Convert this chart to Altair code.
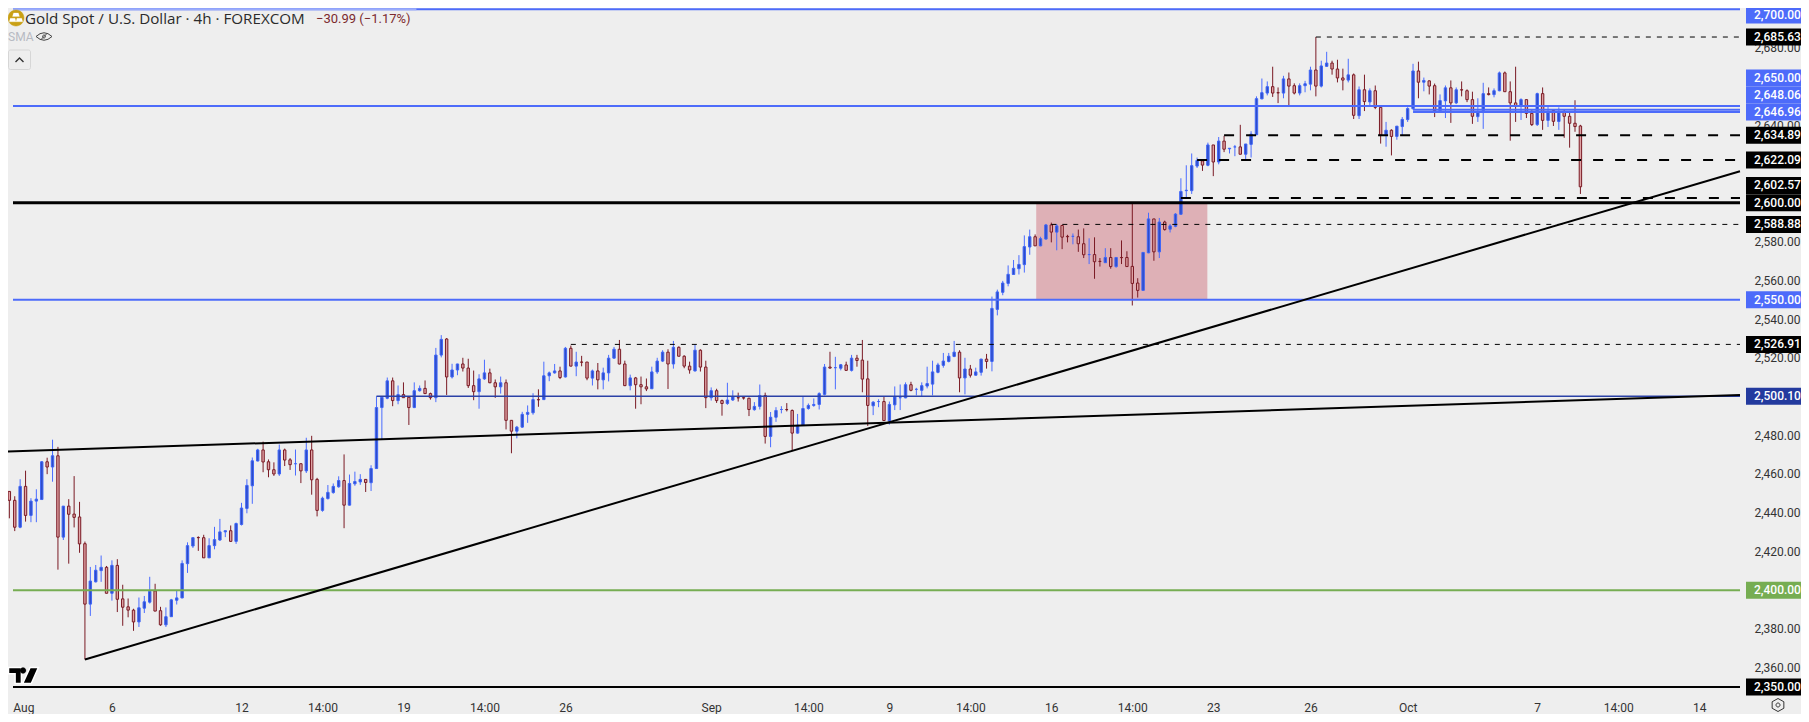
import altair as alt
import pandas as pd

# ---- candles, four-hour bars -----------------------------------------------
body_top = [
 2451.0,2451.0,2446.4,2453.6,2453.6,2446.0,2447.0,2466.3,2466.3,2469.4,2469.4,
 2443.4,2443.4,2439.3,2437.8,2424.0,2404.7,2410.3,2411.8,2411.8,2412.8,
 2412.8,2395.5,2391.4,2389.7,2390.9,2394.0,2399.4,2399.6,2389.4,2386.3,
 2395.0,2396.0,2413.8,2423.0,2427.1,2427.2,2427.1,2423.0,2426.1,2430.1,
 2430.7,2430.7,2434.4,2442.4,2454.1,2466.8,2472.4,2472.4,2466.3,2462.2,2472.4,
 2472.4,2467.3,2465.3,2465.3,2472.4,2472.4,2457.2,2447.5,2450.5,2453.6,
 2456.6,2456.6,2455.1,2456.1,2457.2,2457.2,2462.8,2494.3,2499.6,2508.1,
 2508.1,2501.0,2501.0,2499.6,2503.0,2504.2,2504.2,2501.5,2521.4,2529.5,
 2529.7,2513.7,2516.8,2516.8,2514.7,2505.6,2509.1,2512.2,2512.2,2507.1,
 2507.1,2507.1,2487.7,2484.2,2490.8,2491.8,2498.4,2498.4,2510.7,2512.2,
 2513.2,2513.2,
 2524.9,2524.9,2517.8,2517.8,2517.8,2513.2,2513.2,2512.2,2519.8,2524.4,
 2524.4,2516.8,2509.6,2509.6,2506.1,2505.0,2512.7,2518.3,2522.9,2522.9,
 2525.4,2525.4,2520.8,2515.7,2523.9,2523.9,2515.2,2503.0,2503.0,2497.9,
 2498.2,2499.9,2499.4,2499.4,2499.1,2494.9,2500.5,2500.5,2489.3,2492.8,
 2493.3,2493.3,2492.8,2485.2,2493.8,2495.4,2495.9,2501.5,2515.2,2515.2,2514.9,
 2516.4,2516.3,2519.8,2519.8,2518.8,2509.1,2497.1,2497.4,2497.4,2495.9,
 2499.8,2499.4,2506.1,2506.1,2503.7,2505.6,2506.7,2512.7,2516.3,2518.3,
 2520.8,2522.9,2522.9,2514.2,2514.2,2512.7,2519.3,2519.3,2545.5,2554.0,
 2558.6,2563.1,2566.2,2568.2,2577.4,2582.5,2582.5,2581.5,2588.6,2588.6,
 2588.1,2588.3,2582.7,2582.7,2582.5,2578.9,2573.3,2573.3,2569.8,2571.8,
 2571.8,2571.8,2571.8,2571.8,2567.2,2558.6,2574.4,2591.7,2591.7,2590.1,
 2590.1,2588.1,2594.2,2605.9,2606.5,
 2619.2,2621.9,2621.7,2629.9,2629.9,2631.9,2631.9,2628.2,2628.9,2628.9,
 2630.4,2635.5,2653.8,2656.9,2660.0,2660.0,2656.9,2664.0,2664.0,2660.5,
 2660.5,2661.5,2668.6,2668.6,2670.7,2672.2,2672.2,2669.1,2664.5,2666.1,
 2666.1,2658.4,2658.4,2657.9,2657.9,2649.3,2637.5,2637.5,
 2639.6,2643.1,2648.7,2668.1,2668.1,2663.2,2663.0,2660.5,2652.8,2659.4,
 2659.4,2658.4,2658.4,2657.9,2653.3,2646.9,2656.4,2656.4,2657.9,2667.1,
 2667.1,2657.4,2651.6,2653.3,2653.3,2646.2,2656.4,2656.4,2647.2,2647.7,
 2647.2,2647.2,2644.7,2641.1,2639.7]
body_bottom = [
 2446.8,2446.4,2432.5,2432.5,2438.6,2438.6,2446.0,2446.8,2463.6,2463.6,2427.4,
 2427.4,2439.2,2437.6,2423.9,2392.8,2392.8,2404.3,2410.1,2398.4,2398.4,
 2395.3,2391.2,2389.7,2383.6,2383.6,2390.7,2393.8,2389.2,2382.1,2382.1,
 2386.3,2394.8,2396.0,2413.7,2422.8,2427.1,2416.7,2416.7,2423.0,2425.9,
 2430.1,2425.2,2425.2,2433.9,2442.2,2453.9,2466.7,2466.2,2462.2,2460.0,2460.0,
 2467.2,2464.8,2465.3,2461.6,2461.6,2457.0,2441.2,2441.2,2447.3,2450.4,
 2453.4,2443.9,2443.9,2454.9,2455.9,2455.6,2455.5,2462.8,2494.3,2499.1,
 2497.9,2497.9,2499.4,2494.3,2494.3,2503.0,2501.5,2499.4,2499.4,2521.4,
 2510.1,2510.1,2513.7,2514.7,2505.6,2502.5,2502.5,2509.1,2507.1,2505.0,
 2505.0,2487.7,2482.1,2482.1,2484.2,2490.8,2491.6,2498.3,2498.4,2510.7,
 2512.2,2509.8,
 2510.1,2515.7,2515.7,2517.7,2509.5,2509.5,2508.6,2508.6,2512.2,2519.8,
 2516.8,2505.6,2505.6,2506.1,2505.0,2503.9,2504.0,2512.7,2518.3,2516.8,
 2516.8,2520.8,2515.7,2513.7,2513.2,2515.2,2499.4,2499.4,2497.9,2496.4,
 2496.4,2498.2,2499.3,2499.2,2493.3,2493.2,2494.9,2479.4,2479.4,2489.3,
 2493.3,2493.2,2481.1,2481.1,2485.2,2493.8,2495.4,2495.9,2501.1,2514.7,2514.9,
 2514.6,2513.5,2513.5,2518.6,2509.0,2495.4,2495.2,2497.4,2487.6,2487.4,
 2495.7,2499.4,2499.3,2503.2,2503.7,2503.2,2505.4,2506.4,2512.5,2516.1,
 2518.1,2520.7,2509.6,2509.6,2511.0,2511.0,2512.5,2518.1,2518.1,2545.0,
 2553.8,2558.4,2563.0,2566.0,2568.1,2577.2,2577.8,2577.8,2581.3,2584.9,
 2584.9,2582.3,2582.5,2582.7,2578.9,2573.2,2573.3,2569.6,2569.7,2569.1,
 2567.1,2567.1,2571.7,2567.1,2558.4,2554.8,2554.8,2574.2,2574.7,2574.7,
 2586.2,2586.4,2587.9,2594.1,2606.3,
 2606.3,2619.0,2619.5,2619.4,2621.1,2621.1,2627.7,2627.9,2628.9,2625.1,
 2625.1,2630.2,2635.2,2653.7,2656.7,2656.7,2656.8,2656.7,2660.3,2656.7,
 2656.7,2660.5,2661.3,2660.3,2660.3,2670.5,2669.1,2664.5,2663.4,2663.4,
 2645.2,2645.0,2652.3,2652.1,2649.3,2635.0,2635.2,2634.3,
 2634.3,2639.4,2643.0,2648.6,2662.3,2662.3,2660.3,2647.6,2647.6,2652.7,
 2651.6,2651.6,2658.3,2653.3,2644.7,2644.5,2647.6,2655.9,2655.9,2657.9,
 2657.4,2651.6,2649.8,2649.9,2646.2,2640.4,2640.4,2642.6,2642.6,2642.1,
 2642.0,2644.7,2641.1,2639.4,2608.3]
high_prices = [
 2451.0,2451.0,2448.5,2457.3,2461.7,2447.5,2452.1,2466.7,2468.4,2477.7,2474.0,
 2443.4,2447.0,2458.9,2445.6,2425.1,2412.0,2413.0,2417.9,2412.5,2415.4,
 2416.0,2402.8,2395.7,2390.4,2396.2,2397.0,2406.9,2403.3,2391.4,2391.1,
 2395.5,2400.1,2415.4,2424.7,2427.2,2427.8,2428.6,2426.8,2432.7,2436.8,
 2430.8,2433.4,2434.9,2445.1,2457.3,2468.5,2473.0,2476.7,2467.5,2466.0,2475.2,
 2473.1,2468.2,2472.6,2465.3,2478.7,2479.7,2458.0,2448.3,2454.3,2455.1,
 2458.8,2470.1,2459.7,2461.2,2459.9,2457.2,2464.5,2500.1,2500.1,2509.8,
 2509.8,2505.7,2507.3,2500.1,2507.3,2505.7,2508.3,2502.0,2525.1,2531.7,
 2530.2,2516.9,2516.9,2520.0,2519.5,2513.4,2511.5,2519.0,2514.4,2508.8,
 2510.3,2508.8,2487.7,2484.8,2492.1,2495.4,2501.7,2503.7,2518.0,2512.9,
 2516.8,2515.4,
 2525.6,2526.3,2523.1,2521.0,2517.8,2513.9,2517.3,2514.9,2521.5,2525.6,
 2529.2,2518.5,2511.3,2510.1,2510.3,2509.3,2515.4,2520.0,2523.9,2524.4,
 2528.7,2525.9,2521.3,2518.0,2526.8,2524.4,2518.5,2504.7,2504.0,2498.4,
 2507.1,2503.2,2502.0,2499.9,2499.4,2497.1,2506.2,2502.0,2492.0,2494.5,
 2495.0,2496.6,2493.3,2491.0,2499.9,2496.4,2499.0,2502.2,2516.8,2523.1,2520.5,
 2516.8,2518.0,2521.5,2521.5,2529.2,2518.5,2497.6,2498.6,2499.9,2497.4,
 2505.2,2506.2,2507.3,2507.6,2504.5,2507.3,2515.4,2518.5,2517.4,2522.5,
 2522.5,2528.7,2523.9,2520.0,2516.3,2514.9,2519.5,2522.0,2551.6,2555.2,
 2559.7,2567.7,2570.5,2573.0,2583.2,2586.2,2583.7,2582.5,2589.1,2589.8,
 2589.1,2588.6,2583.5,2584.2,2586.2,2586.8,2581.7,2582.2,2571.5,2576.6,
 2576.6,2571.8,2580.6,2575.0,2599.8,2561.1,2574.4,2594.9,2591.7,2592.2,
 2590.8,2589.1,2594.7,2612.7,2619.4,
 2625.5,2623.4,2621.7,2631.1,2629.9,2634.0,2634.6,2628.2,2629.9,2640.3,
 2630.4,2637.0,2655.0,2664.2,2662.7,2670.3,2659.6,2665.6,2667.3,2661.7,
 2661.7,2663.0,2670.3,2685.63,2673.4,2678.0,2673.4,2673.9,2669.3,2674.4,
 2666.8,2660.1,2666.2,2659.1,2660.6,2649.8,2641.8,2638.0,
 2639.7,2644.3,2649.4,2671.8,2672.9,2664.7,2663.2,2661.6,2656.0,2660.6,
 2663.2,2659.6,2662.7,2658.6,2657.4,2654.0,2662.0,2659.6,2659.1,2667.8,
 2667.8,2662.7,2670.3,2654.0,2653.3,2648.4,2656.9,2659.6,2649.8,2647.7,
 2649.3,2648.4,2646.7,2653.0,2640.3]
low_prices = [
 2446.8,2437.1,2430.5,2432.0,2435.4,2435.1,2435.1,2446.8,2459.9,2456.0,2410.6,
 2425.9,2413.7,2432.4,2419.3,2364.2,2386.7,2404.0,2404.3,2398.4,2394.6,
 2388.7,2381.6,2386.0,2379.0,2381.0,2388.2,2393.1,2389.2,2381.6,2381.0,
 2386.2,2392.6,2395.8,2408.9,2421.8,2420.3,2416.7,2416.6,2421.1,2425.4,
 2427.4,2424.9,2423.9,2433.4,2439.7,2444.6,2466.5,2460.9,2458.3,2459.0,2459.0,
 2464.1,2462.1,2459.2,2455.3,2460.5,2449.3,2438.1,2440.5,2446.8,2449.8,
 2452.9,2432.0,2443.7,2453.9,2454.4,2450.7,2451.2,2462.6,2477.7,2498.6,
 2495.0,2496.0,2499.4,2485.3,2494.0,2502.5,2501.3,2498.4,2497.1,2520.2,
 2500.8,2509.3,2511.0,2512.9,2504.4,2498.1,2493.7,2508.6,2506.9,2499.3,
 2501.5,2483.0,2470.7,2478.4,2483.8,2486.4,2490.6,2494.7,2498.2,2507.9,
 2511.8,2509.0,
 2509.8,2515.6,2510.5,2515.6,2508.4,2505.7,2503.7,2503.7,2507.8,2519.5,
 2516.6,2505.4,2503.2,2493.7,2496.0,2502.8,2503.9,2511.7,2517.8,2503.9,
 2514.4,2520.8,2514.6,2511.8,2512.9,2512.9,2494.0,2497.9,2496.7,2490.1,
 2495.7,2497.7,2497.4,2498.4,2489.9,2492.7,2493.3,2475.7,2473.8,2486.9,
 2491.3,2492.3,2471.8,2480.8,2484.8,2493.2,2494.7,2493.3,2500.6,2514.4,2503.7,
 2513.5,2513.4,2512.9,2515.4,2502.2,2484.8,2490.4,2494.5,2487.4,2485.5,
 2493.0,2493.0,2499.1,2502.7,2500.6,2500.1,2504.2,2500.6,2512.0,2514.9,
 2517.6,2520.3,2502.2,2501.1,2509.8,2510.8,2510.8,2514.4,2513.0,2541.9,
 2552.3,2556.9,2562.8,2563.0,2564.0,2573.2,2577.8,2577.6,2581.1,2579.6,
 2575.5,2576.1,2579.6,2578.6,2574.7,2571.5,2568.4,2560.8,2567.1,2569.1,
 2566.0,2566.5,2568.4,2567.1,2547.0,2551.1,2554.8,2574.0,2570.1,2571.5,
 2585.7,2584.7,2587.4,2593.9,2602.4,
 2604.6,2618.0,2616.5,2618.9,2613.8,2619.9,2626.2,2625.5,2624.1,2625.1,
 2622.4,2623.4,2635.0,2653.5,2655.5,2654.7,2651.5,2654.0,2649.9,2656.0,
 2655.5,2657.1,2658.1,2655.0,2659.6,2670.3,2666.2,2662.2,2658.1,2662.2,
 2643.3,2643.3,2647.4,2650.3,2648.4,2630.6,2629.0,2624.5,
 2632.6,2634.6,2641.8,2648.2,2654.0,2657.6,2656.0,2644.3,2647.6,2643.8,
 2641.3,2651.0,2655.0,2652.0,2640.8,2641.8,2638.2,2655.5,2654.5,2657.6,
 2657.4,2632.1,2641.8,2642.8,2643.8,2639.7,2639.7,2637.7,2639.2,2639.7,
 2637.7,2633.6,2628.5,2636.7,2604.6]
direction = (
 "UDDUDUUUDUD" "UDDDDUUUDU" "DDDDUUUDDU" "UUUUUDDUUU" "UDUUUUUDDDU"
 "DDUDUDDUUU" "UDUUUDUUUU" "DUDDUUDDUU" "DUUDDDUUDD" "UDDUUUUDUU" "UD"
 "UDUDDUDUUU" "DDUDDDUUUD" "UDDDUDDUDD" "UUDDDUUDUU" "UDDUUUUUUDU"
 "UDUDDDUUDU" "UUUDUUUUUU" "UUDUDUUDUU" "UUUUUUDUUD" "UDDUDDUDDU"
 "DUDDDDUUDU" "DUUUU"
 "UUDUDUDUUD" "UUUUUDDUDD" "UUUDUUDDDU" "DUDUDDUD"
 "UUUUDUDDUU" "DUDDDUUDUU" "DDDUDDUDUD" "UDDDD")

# ---- axes --------------------------------------------------------------------
price_ticks = [2360, 2380, 2420, 2440, 2460, 2480, 2520, 2540, 2560, 2580, 2640, 2680]
date_bars = [2.6, 19, 43, 58, 73, 88, 103, 130, 148, 163, 178, 193, 208, 223, 241, 259, 283, 298, 313]
date_labels = ["Aug", "6", "12", "14:00", "19", "14:00", "26", "Sep", "14:00", "9", "14:00",
               "16", "14:00", "23", "26", "Oct", "7", "14:00", "14"]

# ---- horizontal levels: price, first bar, colour, width, dash -------------------
LEFT = 0.676
RIGHT = 320.56
BLUE = "#4d6bfa"
levels = [
 (2700, LEFT, BLUE, 2, None), (2650, LEFT, BLUE, 2, None),
 (2648.06, 260, BLUE, 2, None), (2646.96, 260, BLUE, 2, None),
 (2550, LEFT, BLUE, 2, None), (2500.10, 68, "#2a41a6", 1.5, None),
 (2400, LEFT, "#76ad52", 2, None), (2350, LEFT, "#000000", 2, None),
 (2600, LEFT, "#000000", 3, None),
 (2634.89, 225, "#000000", 2, [10, 12]), (2622.09, 220, "#000000", 2, [10, 12]),
 (2602.57, 217, "#000000", 2, [10, 12]),
 (2685.63, 242, "#000000", 1, [5, 6]), (2588.88, 193, "#000000", 1, [5, 6]),
 (2526.91, 104, "#000000", 1, [5, 6]),
]
zone = dict(x=190.2, x2=221.9, low=2550, high=2600)
trend_a = dict(bar=[14, RIGHT], price=[2364.2, 2616.3])
trend_b = dict(bar=[-0.8, RIGHT], price=[2471.6, 2500.8])

# ---- price tags: shown text, position, colour --------------------------------
tag_text = ["2,700.00", "2,685.63", "2,650.00", "2,648.06", "2,646.96", "2,634.89", "2,622.09",
            "2,602.57", "2,600.00", "2,588.88", "2,550.00", "2,526.91", "2,500.10", "2,400.00", "2,350.00"]
tag_price = [2697.0, 2685.63, 2664.5, 2655.7, 2646.9, 2634.89, 2622.09,
             2609.0, 2600.0, 2588.88, 2550.0, 2526.91, 2500.1, 2400.0, 2350.0]
tag_color = [BLUE, "#000000", BLUE, BLUE, BLUE, "#000000", "#000000",
             "#000000", "#000000", "#000000", BLUE, "#000000", "#233a9e", "#76ad52", "#000000"]

n = len(body_top)
assert n == len(body_bottom) == len(high_prices) == len(low_prices) == len(direction), (
    n, len(body_bottom), len(high_prices), len(low_prices), len(direction))
candles = pd.DataFrame({"bar": list(range(-1, n - 1)), "top": body_top, "bottom": body_bottom,
                        "high": high_prices, "low": low_prices, "dir": list(direction)})

X = alt.Scale(domain=[LEFT, RIGHT], nice=False, zero=False)
Y = alt.Scale(domain=[2344.32, 2700.62], nice=False, zero=False)
FONT = "Roboto"
x_ch = alt.X("bar:Q", scale=X, axis=alt.Axis(
    values=date_bars, grid=False, domain=False, ticks=False, labelFontSize=12, labelFont=FONT,
    labelColor="#333333", labelPadding=4, labelFlush=False, labelOverlap=False, title=None,
    labelExpr="{" + ",".join(f"'{b}':'{t}'" for b, t in zip(date_bars, date_labels)) + "}[datum.value]"))
y_ch = alt.Y("low:Q", scale=Y, axis=alt.Axis(
    values=price_ticks, orient="right", grid=False, domain=False, ticks=False, labelFontSize=12,
    labelFont=FONT, labelColor="#333333", labelPadding=9, format=",.2f", title=None, labelAlign="left"))
up_dn = alt.Scale(domain=["U", "D"], range=["#4a6cff", "#7a1a24"])

wicks = alt.Chart(candles).mark_rule(strokeWidth=1).encode(
    x=x_ch, y=y_ch, y2="high:Q", color=alt.Color("dir:N", scale=up_dn, legend=None))
bodies = alt.Chart(candles).mark_bar(size=2.4, strokeWidth=1, orient="vertical").encode(
    x=alt.X("bar:Q", scale=X), y=alt.Y("top:Q", scale=Y), y2="bottom:Q",
    fill=alt.Fill("dir:N", scale=alt.Scale(domain=["U", "D"], range=["#2e4cc8", "#dfa3a5"]), legend=None),
    stroke=alt.Stroke("dir:N", scale=alt.Scale(domain=["U", "D"], range=["#3f66f7", "#7a1a24"]), legend=None))

zone_mark = alt.Chart(pd.DataFrame([zone])).mark_rect(color="#deb0b6").encode(
    x=alt.X("x:Q", scale=X), x2="x2:Q", y=alt.Y("low:Q", scale=Y), y2="high:Q")

level_layers = []
for price, start, color, width, dash in levels:
    kw = {"strokeDash": dash} if dash else {}
    level_layers.append(
        alt.Chart(pd.DataFrame({"p": [price], "a": [start], "b": [RIGHT]}))
        .mark_rule(color=color, strokeWidth=width, **kw)
        .encode(x=alt.X("a:Q", scale=X), x2="b:Q", y=alt.Y("p:Q", scale=Y)))
# the header overlay lightens the top line above the legend
level_layers.append(
    alt.Chart(pd.DataFrame({"p": [2700], "a": [LEFT], "b": [75.4]}))
    .mark_rule(color="#9aabfb", strokeWidth=2)
    .encode(x=alt.X("a:Q", scale=X), x2="b:Q", y=alt.Y("p:Q", scale=Y)))

trend_layers = [
    alt.Chart(pd.DataFrame(t)).mark_line(color="#000000", strokeWidth=2, clip=True)
    .encode(x=alt.X("bar:Q", scale=X), y=alt.Y("price:Q", scale=Y), order="bar:Q")
    for t in (trend_a, trend_b)]

tags = pd.DataFrame({"t": tag_text, "p": tag_price, "c": tag_color})
tags["p0"] = tags["p"] - 4.39
tags["p1"] = tags["p"] + 4.39
tag_boxes = alt.Chart(tags).mark_rect().encode(
    x=alt.value(1738), x2=alt.value(1798), y=alt.Y("p0:Q", scale=Y), y2="p1:Q",
    fill=alt.Fill("c:N", scale=None))
tag_labels = alt.Chart(tags).mark_text(align="left", baseline="middle", font=FONT, fontSize=12,
                                       fontWeight=500, color="#ffffff", clip=False).encode(
    x=alt.value(1746), y=alt.Y("p:Q", scale=Y), text="t:N")

def label(text, x, y, size, color, weight=400, font=FONT):
    return alt.Chart(pd.DataFrame({"t": [text]})).mark_text(
        align="left", baseline="middle", font=font, fontSize=size, color=color, fontWeight=weight
    ).encode(x=alt.value(x), y=alt.value(y), text="t:N")

def glyph(path, x, y, size, fill="transparent", stroke="#333333", sw=1.0):
    return alt.Chart(pd.DataFrame({"a": [0]})).mark_point(
        shape=path, size=size, fill=fill, stroke=stroke, strokeWidth=sw, filled=True, opacity=1
    ).encode(x=alt.value(x), y=alt.value(y))

CIRCLE = "M-0.5,0A0.5,0.5,0,1,1,0.5,0A0.5,0.5,0,1,1,-0.5,0Z"
header = [
    glyph(CIRCLE, 8, 10, 1024, fill="#c9a015", stroke="#c9a015", sw=0.5),
    glyph("M-0.15,-0.32H0.15L0.22,-0.1H-0.22ZM-0.36,0.02H-0.06L0,0.24H-0.42ZM0.06,0.02H0.36L0.42,0.24H0Z",
          8, 10, 1024, fill="#ffffff", stroke="#ffffff", sw=0.2),
    label("Gold Spot  / U.S. Dollar · 4h · FOREXCOM", 17, 10.5, 15.2, "#2b2b2b", font="Open Sans"),
    label("−30.99 (−1.17%)", 308, 10.5, 13, "#7c2a2e"),
    label("SMA", 0, 29, 12, "#b7bac3"),
    glyph("M-0.8,0Q0,-0.75,0.8,0Q0,0.75,-0.8,0Z", 36, 28.5, 400, stroke="#444444", sw=1),
    glyph(CIRCLE, 36, 28.5, 36, stroke="#444444", sw=1),
    glyph("M-0.5,0.5L0.5,-0.5", 36, 28.5, 144, stroke="#444444", sw=1),
    alt.Chart(pd.DataFrame({"a": [0]})).mark_rect(fill="#eeeeee", stroke="#d6d6d6", cornerRadius=2).encode(
        x=alt.value(0.5), x2=alt.value(22.5), y=alt.value(42), y2=alt.value(61.5)),
    glyph("M-0.5,0.3L0,-0.2L0.5,0.3", 11.5, 51.5, 256, stroke="#333333", sw=1.4),
    # chart-provider logo
    glyph("M-0.5,-0.27H-0.07V0.27H-0.28V-0.06H-0.5ZM0.22,-0.27H0.5L0.26,0.27H-0.03Z", 15.5, 667.5, 3600,
          fill="#000000", stroke="#ffffff", sw=1.5),
    glyph(CIRCLE, 15, 662.5, 144, fill="#000000", stroke="#000000", sw=0.2),
    # chart-settings button
    glyph("M0,-0.5L0.45,-0.25V0.25L0,0.5L-0.45,0.25V-0.25Z", 1770, 697, 676, stroke="#333333", sw=1),
    glyph(CIRCLE, 1770, 697, 64, stroke="#333333", sw=1),
]

chart = alt.layer(
    zone_mark, wicks, bodies, *level_layers, *trend_layers, tag_boxes, tag_labels, *header
).properties(
    width=1737, height=690,
    padding={"left": 0, "top": 0, "right": 56, "bottom": 16},
    autosize=alt.AutoSizeParams(type="none"),
    background="#eeeeee",
).configure_view(stroke=None, fill="#eeeeee")

chart.save("out.html", embed_options={"renderer": "svg", "actions": False})
